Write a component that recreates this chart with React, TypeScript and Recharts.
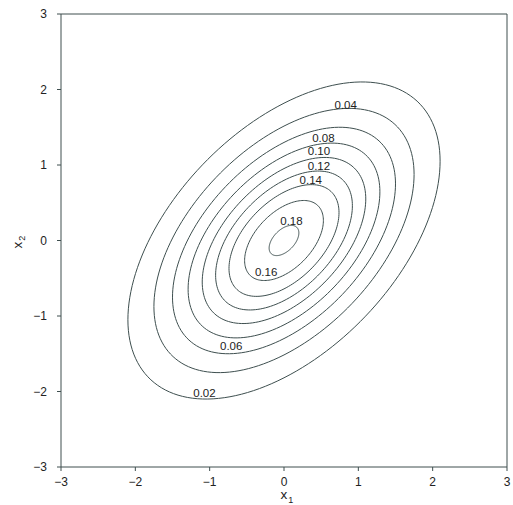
import React from 'react';
import { ScatterChart, Scatter, XAxis, YAxis, ReferenceLine } from 'recharts';

// contour levels, drawn from the outside in
const levels = ['0.02', '0.04', '0.06', '0.08', '0.10', '0.12', '0.14', '0.16', '0.18'];
// half-width of each contour along x1
const reach = [2.1, 1.75, 1.5, 1.29, 1.1, 0.92, 0.74, 0.53, 0.2];
// tilt of the ellipses (correlation of x1 and x2)
const rho = 0.5;
// where each level's label sits
const labelX = [-1.07, 0.83, -0.71, 0.53, 0.47, 0.47, 0.36, -0.24, 0.1];
const labelY = [-2.02, 1.8, -1.4, 1.36, 1.18, 0.99, 0.8, -0.42, 0.26];
const ticks = [-3, -2, -1, 0, 1, 2, 3];

const lineColor = '#3e4f4f';
const textColor = '#222';

const ellipse = (r: number) => {
  const pts = [];
  const n = 160;
  for (let i = 0; i <= n; i++) {
    const t = (i / n) * 2 * Math.PI;
    pts.push({
      x: r * Math.cos(t),
      y: r * (rho * Math.cos(t) + Math.sqrt(1 - rho * rho) * Math.sin(t)),
    });
  }
  return pts;
};

const contours = reach.map((r) => ellipse(r));
const labelData = levels.map((text, i) => ({ x: labelX[i], y: labelY[i], text }));

const fmt = (v: number) => String(v).replace('-', '\u2212');

const XTitle = (props: any) => {
  const { viewBox } = props;
  const cx = viewBox.x + viewBox.width / 2 + 3;
  const y = viewBox.y + 32;
  return (
    <text x={cx} y={y} textAnchor="middle" fontSize={13.5} fill={textColor}>
      x<tspan fontSize={9} dx={1} dy={4}>1</tspan>
    </text>
  );
};

const YTitle = () => (
  <text
    x={22}
    y={242}
    transform="rotate(-90 22 242)"
    textAnchor="middle"
    fontSize={13.5}
    fill={textColor}
  >
    x<tspan fontSize={9} dx={1} dy={3}>2</tspan>
  </text>
);

const LevelText = (props: any) => (
  <text
    x={props.cx}
    y={props.cy}
    textAnchor="middle"
    dominantBaseline="central"
    fontSize={11.5}
    fill={textColor}
  >
    {props.payload.text}
  </text>
);

const NoDot = () => <g />;

export default function App() {
  return (
    <div style={{ position: 'absolute', left: 0, top: 0, background: '#fff', fontFamily: 'Liberation Sans, Arial, sans-serif' }}>
      <ScatterChart width={513} height={505} margin={{ top: 14, right: 6, bottom: 8, left: 21 }}>
        <XAxis
          type="number"
          dataKey="x"
          domain={[-3, 3]}
          ticks={ticks}
          tickFormatter={fmt}
          allowDataOverflow
          stroke={lineColor}
          tickSize={4}
          tickMargin={6}
          height={30}
          tick={{ fill: textColor, fontSize: 12 }}
          label={<XTitle />}
        />
        <YAxis
          type="number"
          dataKey="y"
          domain={[-3, 3]}
          ticks={ticks}
          tickFormatter={fmt}
          allowDataOverflow
          stroke={lineColor}
          tickSize={4}
          tickMargin={10}
          width={40}
          tick={{ fill: textColor, fontSize: 12 }}
          label={<YTitle />}
        />
        <ReferenceLine y={3} stroke={lineColor} />
        <ReferenceLine x={3} stroke={lineColor} />
        {contours.map((pts, i) => (
          <Scatter
            key={levels[i]}
            data={pts}
            line={{ stroke: lineColor, strokeWidth: 1 }}
            lineType="joint"
            shape={<NoDot />}
            isAnimationActive={false}
          />
        ))}
        <Scatter data={labelData} shape={<LevelText />} isAnimationActive={false} />
      </ScatterChart>
    </div>
  );
}
